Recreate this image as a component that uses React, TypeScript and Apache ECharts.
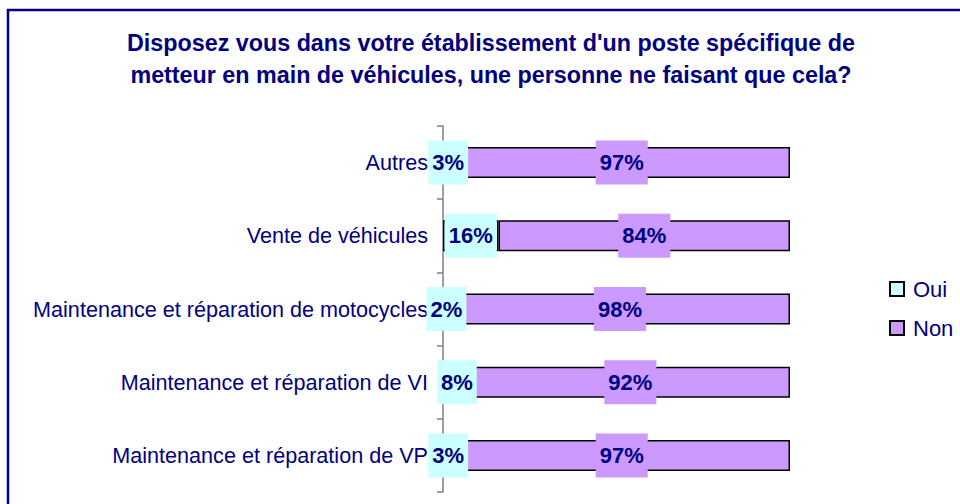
import React, { useEffect, useRef } from "react";
import * as echarts from "echarts";

const titleText =
  "Disposez vous dans votre établissement d'un poste spécifique de\nmetteur en main de véhicules, une personne ne faisant que cela?";
// bottom-to-top order (ECharts category y axis)
const categories = [
  "Maintenance et réparation de VP",
  "Maintenance et réparation de VI",
  "Maintenance et réparation de motocycles",
  "Vente de véhicules",
  "Autres",
];
const ouiValues = [3, 8, 2, 16, 3];
const nonValues = [97, 92, 98, 84, 97];
const seriesNames = ["Oui", "Non"];

const NAVY = "#000080";
const FONT = "'Liberation Sans', Arial, sans-serif";
const OUI_COLOR = "#CCFFFF";
const NON_COLOR = "#CC99FF";

export default function App() {
  const ref = useRef<HTMLDivElement>(null);
  useEffect(() => {
    document.body.style.margin = "0";
    const chart = echarts.init(ref.current!, null, { renderer: "svg" });
    const mkLabel = (bg: string) => ({
      show: true,
      position: "inside",
      formatter: "{c}%",
      color: NAVY,
      fontWeight: "bold",
      fontSize: 22,
      fontFamily: FONT,
      lineHeight: 24,
      backgroundColor: bg,
      padding: [10, 4],
    });
    chart.setOption({
      animation: false,
      textStyle: { fontFamily: FONT },
      graphic: [
        {
          type: "rect",
          shape: { x: 8, y: 10, width: 1000, height: 1000 },
          style: { fill: "none", stroke: NAVY, lineWidth: 2.5 },
          silent: true,
        },
        {
          type: "text",
          x: 491,
          y: 27,
          style: {
            text: titleText,
            fill: NAVY,
            fontSize: 23.3,
            fontWeight: "bold",
            fontFamily: FONT,
            lineHeight: 32,
            align: "center",
            verticalAlign: "top",
          },
        },
      ],
      legend: {
        orient: "vertical",
        left: 889,
        top: 277,
        padding: 0,
        itemWidth: 14,
        itemHeight: 14,
        itemGap: 15,
        icon: "rect",
        data: seriesNames,
        textStyle: {
          color: NAVY,
          fontSize: 22,
          lineHeight: 24,
          fontFamily: FONT,
          padding: [0, 0, 0, 4],
        },
      },
      grid: { left: 443, right: 170, top: 126, bottom: 12, containLabel: false },
      xAxis: { type: "value", min: 0, max: 100, show: false },
      yAxis: {
        type: "category",
        data: categories,
        axisLine: { show: true, lineStyle: { color: "#808080", width: 1.5 } },
        axisTick: { show: true, length: 6, lineStyle: { color: "#808080", width: 1.5 } },
        axisLabel: { color: NAVY, fontSize: 21.6, fontFamily: FONT, margin: 15 },
        splitLine: { show: false },
      },
      series: [
        {
          name: seriesNames[0],
          type: "bar",
          stack: "total",
          barWidth: 31,
          data: ouiValues,
          itemStyle: { color: OUI_COLOR, borderColor: "#000", borderWidth: 1.5 },
          label: mkLabel(OUI_COLOR),
        },
        {
          name: seriesNames[1],
          type: "bar",
          stack: "total",
          barWidth: 31,
          data: nonValues,
          itemStyle: { color: NON_COLOR, borderColor: "#000", borderWidth: 1.5 },
          label: mkLabel(NON_COLOR),
        },
      ],
    });
    return () => chart.dispose();
  }, []);
  return (
    <div
      ref={ref}
      style={{ position: "absolute", left: 0, top: 0, width: 960, height: 504, background: "#fff" }}
    />
  );
}
